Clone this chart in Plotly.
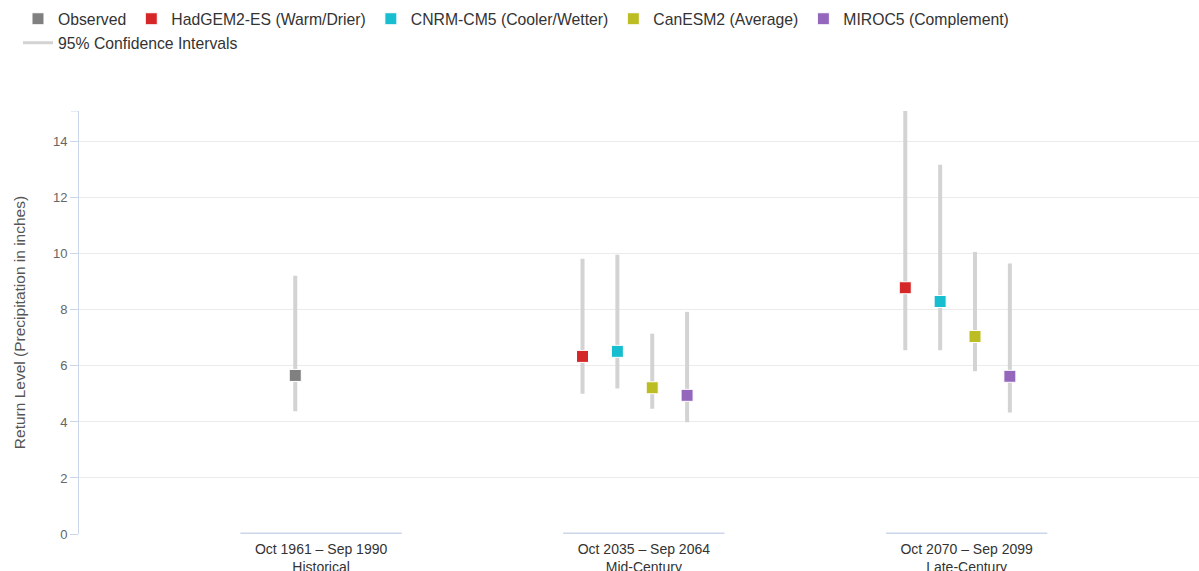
import plotly.graph_objects as go

# Periods shown along the x axis
periods = ["Oct 1961 – Sep 1990", "Oct 2035 – Sep 2064", "Oct 2070 – Sep 2099"]
period_names = ["Historical", "Mid-Century", "Late-Century"]

# Observed return level (historical period only) with 95% CI
obs_value = [5.66]
obs_lower = [4.38]
obs_upper = [9.22]

# Model projections (mid-century, late-century) with 95% CI
model_names = ["HadGEM2-ES (Warm/Drier)", "CNRM-CM5 (Cooler/Wetter)",
               "CanESM2 (Average)", "MIROC5 (Complement)"]
model_values = [[6.34, 8.79], [6.52, 8.30], [5.22, 7.05], [4.95, 5.63]]
model_lower = [[5.01, 6.56], [5.19, 6.56], [4.47, 5.81], [3.99, 4.34]]
model_upper = [[9.83, 15.10], [9.97, 13.18], [7.15, 10.07], [7.93, 9.66]]

# Styling
FONT = "Liberation Sans, Arial, sans-serif"
OBS_COLOR = "#808080"
MODEL_COLORS = ["#d62728", "#17becf", "#bcbd22", "#9467bd"]
CI_COLOR = "#d3d3d3"
OBS_OFFSET = -0.08
MODEL_OFFSETS = [-0.19, -0.082, 0.026, 0.134]
Y_MAX = 15.1
H = 571

fig = go.Figure()


def add_series(name, xs, vals, lows, highs, color):
    fig.add_trace(go.Scatter(
        x=xs, y=vals, name=name, mode="markers", legend="legend",
        marker=dict(symbol="square", size=12, color=color,
                    line=dict(width=1, color="white")),
        error_y=dict(type="data", symmetric=False,
                     array=[h - v for h, v in zip(highs, vals)],
                     arrayminus=[v - l for v, l in zip(vals, lows)],
                     color=CI_COLOR, thickness=4, width=0),
        hovertemplate="%{y:.2f} in<extra>" + name + "</extra>",
    ))


add_series("Observed", [0 + OBS_OFFSET], obs_value, obs_lower, obs_upper, OBS_COLOR)
for i, name in enumerate(model_names):
    xs = [1 + MODEL_OFFSETS[i], 2 + MODEL_OFFSETS[i]]
    add_series(name, xs, model_values[i], model_lower[i], model_upper[i], MODEL_COLORS[i])

# Legend entry for the confidence-interval whiskers (second legend row)
fig.add_trace(go.Scatter(
    x=[None], y=[None], mode="lines", name="95% Confidence Intervals",
    legend="legend2",
    line=dict(color=CI_COLOR, width=3), hoverinfo="skip",
))

# Category baseline segments under each period
for c in range(len(periods)):
    fig.add_shape(type="line", xref="x", yref="y",
                  x0=c - 0.25, x1=c + 0.25, y0=0, y1=0,
                  line=dict(color="#ccd6eb", width=3), layer="above")

# Small tick at the top end of the y axis
fig.add_shape(type="line", xref="paper", yref="y",
              x0=-8 / 1120, x1=0, y0=Y_MAX, y1=Y_MAX,
              line=dict(color="#ccd6eb", width=1))

legend_style = dict(
    orientation="h", xref="container", yref="container",
    xanchor="left", yanchor="top",
    font=dict(size=15.75, color="#333333"),
    bgcolor="rgba(0,0,0,0)",
)

fig.update_layout(
    width=1199, height=H,
    margin=dict(l=79, r=0, t=111, b=37, autoexpand=False),
    paper_bgcolor="white", plot_bgcolor="white",
    font=dict(family=FONT, color="#333333"),
    showlegend=True,
    legend=dict(legend_style, x=0.015, y=1 - 2 / H),
    legend2=dict(legend_style, x=0.015, y=1 - 26 / H),
    xaxis=dict(
        range=[-0.75, 2.72],
        tickvals=list(range(len(periods))),
        ticktext=[f"{p}<br>{n}" for p, n in zip(periods, period_names)],
        tickfont=dict(size=14, color="#333333"),
        ticklabelstandoff=5,
        automargin=False,
        showgrid=False, zeroline=False, showline=False, ticks="",
        fixedrange=True,
    ),
    yaxis=dict(
        range=[0, Y_MAX],
        tickvals=list(range(0, 15, 2)),
        tickfont=dict(size=13, color="#666666"),
        automargin=False,
        showgrid=True, gridcolor="#ebebeb", gridwidth=1,
        zeroline=False,
        showline=True, linecolor="#ccd6eb", linewidth=1,
        ticks="outside", ticklen=8, tickcolor="#ccd6eb",
        title=dict(text="Return Level (Precipitation in inches)",
                   font=dict(size=15.5, color="#555555"), standoff=23),
        fixedrange=True,
    ),
)

fig.write_html("out.html")
